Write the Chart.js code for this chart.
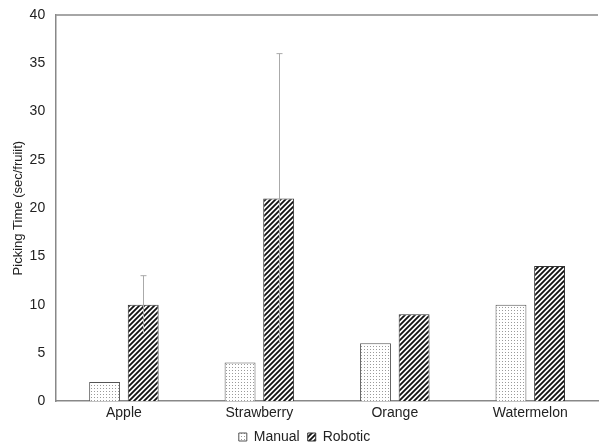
<!DOCTYPE html>
<html>
<head>
<meta charset="utf-8">
<script src="https://cdn.jsdelivr.net/npm/chart.js@4/dist/chart.umd.min.js"></script>
<style>
  html, body { margin: 0; padding: 0; background: #fff; }
  #wrap { width: 599px; height: 448px; }
</style>
</head>
<body>
<div id="wrap"><canvas id="fruitChart" width="599" height="448"></canvas></div>
<script>
// data
let fruits = ["Apple", "Strawberry", "Orange", "Watermelon"];
let manualTime = [2, 4, 6, 10];
let roboticTime = [10, 21, 9, 14];
let roboticErr = [3, 15, 0, 0];
let yTicks = [0, 5, 10, 15, 20, 25, 30, 35, 40];

//dotted fill for manual bars
function dotPattern() {
  let c = document.createElement('canvas');
  c.width = 3; c.height = 3;
  let g = c.getContext('2d');
  g.fillStyle = '#fff';
  g.fillRect(0, 0, 3, 3);
  g.fillStyle = '#9a9a9a';
  g.fillRect(1, 1, 1, 1);
  return g.createPattern(c, 'repeat');
}

//diagonal hatch for robotic bars
function hatchPattern() {
  let s = 5;
  let c = document.createElement('canvas');
  c.width = s; c.height = s;
  let g = c.getContext('2d');
  g.fillStyle = '#fff';
  g.fillRect(0, 0, s, s);
  g.strokeStyle = '#111';
  g.lineWidth = 1.8;
  g.beginPath();
  g.moveTo(-1, s + 1); g.lineTo(s + 1, -1);
  g.moveTo(-1, 1); g.lineTo(1, -1);
  g.moveTo(s - 1, s + 1); g.lineTo(s + 1, s - 1);
  g.stroke();
  return g.createPattern(c, 'repeat');
}

//error bars + top frame line, and a tighter legend box
var extras = {
  id: 'extras',
  afterInit(chart) {
    let legend = chart.legend;
    if (!legend) return;
    let fit = legend.fit;
    legend.fit = function() {
      fit.call(this);
      this.height -= 6;
    };
  },
  afterDatasetsDraw(chart) {
    let ctx = chart.ctx;
    let y = chart.scales.y;
    let area = chart.chartArea;
    ctx.save();
    ctx.strokeStyle = '#888';
    ctx.lineWidth = 1.5;
    ctx.beginPath();
    ctx.moveTo(area.left, area.top);
    ctx.lineTo(area.right, area.top);
    ctx.stroke();

    let meta = chart.getDatasetMeta(1);
    ctx.strokeStyle = '#aaa';
    ctx.lineWidth = 1;
    meta.data.forEach((bar, i) => {
      let e = roboticErr[i];
      if (!e) return;
      let x = Math.round(bar.x) + 0.5;
      let top = y.getPixelForValue(roboticTime[i] + e);
      let bottom = y.getPixelForValue(roboticTime[i] - e);
      ctx.beginPath();
      ctx.moveTo(x, top);
      ctx.lineTo(x, bottom);
      ctx.moveTo(x - 3, top);
      ctx.lineTo(x + 3, top);
      ctx.stroke();
    });
    ctx.restore();
  }
};

var ctx = document.getElementById('fruitChart').getContext('2d');
var chart = new Chart(ctx, {
  type: 'bar',
  data: {
    labels: fruits,
    datasets: [{
      label: "Manual",
      data: manualTime,
      backgroundColor: dotPattern(),
      borderColor: '#555',
      borderWidth: 1
    }, {
      label: "Robotic",
      data: roboticTime,
      backgroundColor: hatchPattern(),
      borderColor: '#333',
      borderWidth: 1
    }]
  },
  options: {
    responsive: false,
    animation: false,
    layout: { padding: { top: 15, right: 1, left: 11, bottom: 0 } },
    datasets: {
      bar: { categoryPercentage: 0.57, barPercentage: 0.8 }
    },
    plugins: {
      legend: {
        position: 'bottom',
        labels: {
          color: '#222',
          font: { family: 'Liberation Sans, Arial', size: 14 },
          boxWidth: 8,
          boxHeight: 8,
          padding: 8
        }
      },
      tooltip: { enabled: false }
    },
    scales: {
      x: {
        grid: { display: false, drawTicks: false },
        border: { color: '#888', width: 1.5 },
        afterFit: (axis) => { axis.height -= 4; },
        ticks: { color: '#222', padding: 4, font: { family: 'Liberation Sans, Arial', size: 14 } }
      },
      y: {
        min: 0,
        max: 40,
        afterBuildTicks: (axis) => { axis.ticks = yTicks.map(v => ({ value: v })); },
        afterFit: (axis) => { axis.paddingTop = 0; axis.paddingBottom = 0; },
        grid: { display: false, drawTicks: false },
        border: { color: '#888', width: 1.5 },
        ticks: { color: '#222', padding: 11, font: { family: 'Liberation Sans, Arial', size: 14 } },
        title: {
          display: true,
          text: 'Picking Time (sec/fruiit)',
          color: '#222',
          padding: { top: 0, bottom: -8 },
          font: { family: 'Liberation Sans, Arial', size: 13 }
        }
      }
    }
  },
  plugins: [extras]
});
</script>
</body>
</html>
